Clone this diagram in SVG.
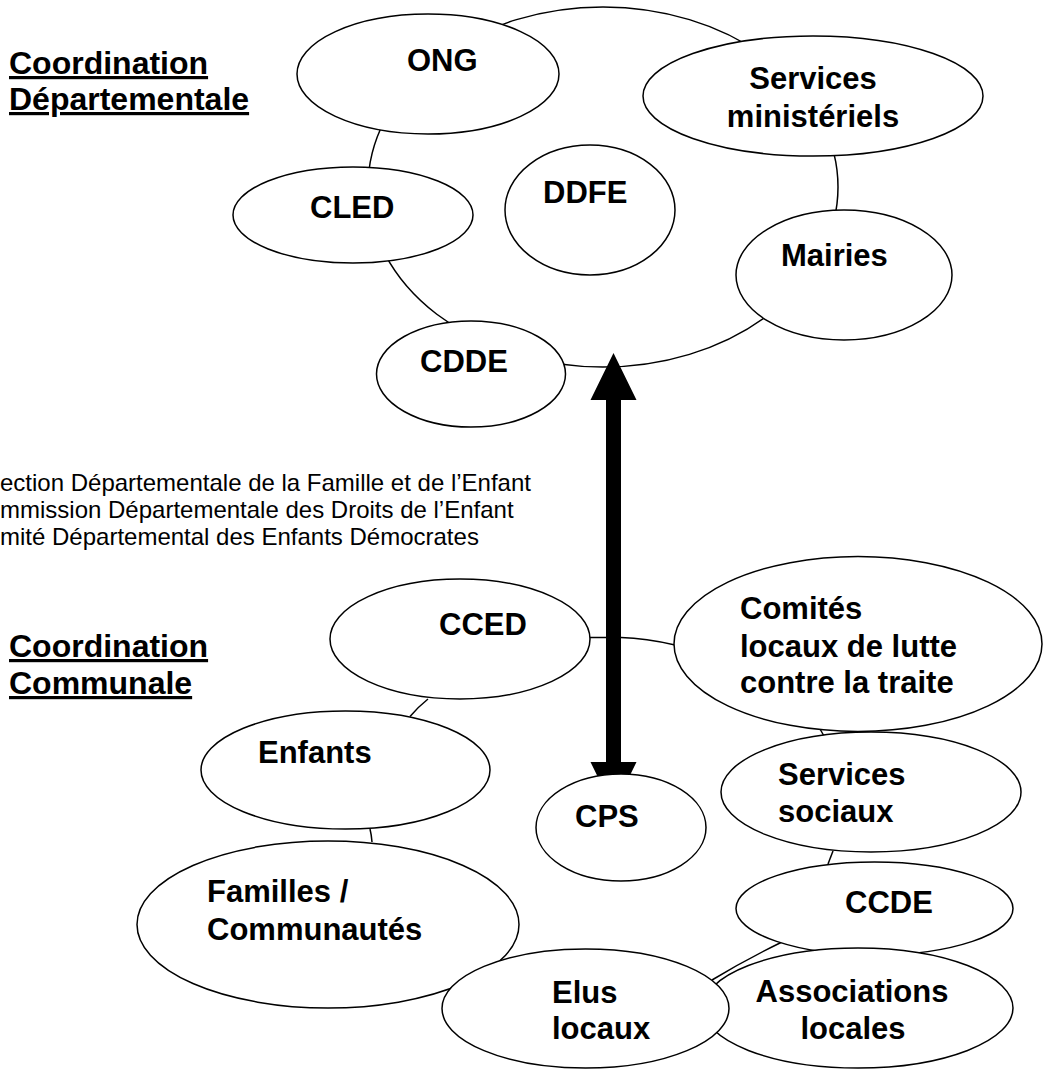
<svg xmlns="http://www.w3.org/2000/svg" width="1043" height="1070" viewBox="0 0 1043 1070">
<style>
.n{fill:#fff;stroke:#000;stroke-width:1.5}
.c{fill:none;stroke:#000;stroke-width:1.5}
.t{font-family:"Liberation Sans",Arial,sans-serif;font-weight:bold;font-size:31px;fill:#000}
.h{font-family:"Liberation Sans",Arial,sans-serif;font-weight:bold;font-size:32px;fill:#000;text-decoration:underline}
.l{font-family:"Liberation Sans",Arial,sans-serif;font-size:24px;fill:#000}
.m{text-anchor:middle}
</style>
<rect width="1043" height="1070" fill="#fff"/>
<g id="titles">
<text class="h" x="9" y="74">Coordination</text>
<text class="h" x="9" y="110">Départementale</text>
<text class="h" x="9" y="657">Coordination</text>
<text class="h" x="9" y="694">Communale</text>
</g>
<g id="legend">
<text class="l" x="0" y="491">ection Départementale de la Famille et de l’Enfant</text>
<text class="l" x="0" y="518">mmission Départementale des Droits de l’Enfant</text>
<text class="l" x="0" y="545">mité Départemental des Enfants Démocrates</text>
</g>
<g id="connectors">
<ellipse class="c" cx="603" cy="187" rx="235" ry="180"/>
<path class="c" d="M590,637.5 L621,637.5 C640,638 658,641 675,645"/>
<path class="c" d="M428,699 Q418,707 410,716.5"/>
<path class="c" d="M370,829 Q371.5,835 372,842"/>
<path class="c" d="M820,729 L824,736"/>
<path class="c" d="M833,851 L828,864"/>
<path class="c" d="M782,942 Q745,960 712,980"/>
<path d="M613.5,353 L636.5,400 L621,400 L621,762 L636.5,762 L613.5,809 L590.5,762 L606,762 L606,400 L590.5,400 Z" fill="#000"/>
</g>
<g id="ong"><ellipse class="n" cx="428" cy="74" rx="131" ry="60"/><text class="t" x="407" y="71">ONG</text></g>
<g id="services-ministeriels"><ellipse class="n" cx="813" cy="96" rx="170" ry="60"/><text class="t m" x="813" y="89">Services</text><text class="t m" x="813" y="127">ministériels</text></g>
<g id="cled"><ellipse class="n" cx="353" cy="215" rx="120" ry="48"/><text class="t" x="310" y="218">CLED</text></g>
<g id="ddfe"><ellipse class="n" cx="590" cy="210" rx="85" ry="65"/><text class="t" x="543" y="203">DDFE</text></g>
<g id="mairies"><ellipse class="n" cx="844" cy="275" rx="108" ry="65"/><text class="t" x="781" y="266">Mairies</text></g>
<g id="cdde"><ellipse class="n" cx="471" cy="374" rx="94.5" ry="53"/><text class="t" x="420" y="372">CDDE</text></g>
<g id="cced"><ellipse class="n" cx="460" cy="639" rx="130" ry="60"/><text class="t" x="439" y="635">CCED</text></g>
<g id="comites"><ellipse class="n" cx="858" cy="644" rx="184" ry="87.5"/><text class="t" x="740" y="619">Comités</text><text class="t" x="740" y="657">locaux de lutte</text><text class="t" x="740" y="693">contre la traite</text></g>
<g id="enfants"><ellipse class="n" cx="345.5" cy="770" rx="144.5" ry="59"/><text class="t" x="258" y="763">Enfants</text></g>
<g id="cps"><ellipse class="n" cx="621" cy="827.5" rx="85" ry="53.5"/><text class="t" x="575" y="827">CPS</text></g>
<g id="services-sociaux"><ellipse class="n" cx="871" cy="792" rx="150" ry="60"/><text class="t" x="778" y="785">Services</text><text class="t" x="778" y="822">sociaux</text></g>
<g id="familles"><ellipse class="n" cx="328" cy="924.5" rx="191" ry="83.5"/><text class="t" x="207" y="902">Familles /</text><text class="t" x="207" y="940">Communautés</text></g>
<g id="ccde"><ellipse class="n" cx="874.5" cy="908.5" rx="138.5" ry="46.5"/><text class="t" x="845" y="913">CCDE</text></g>
<g id="associations"><ellipse class="n" cx="858" cy="1008" rx="155" ry="60"/><text class="t m" x="852" y="1002">Associations</text><text class="t m" x="853" y="1039">locales</text></g>
<g id="elus"><ellipse class="n" cx="585.5" cy="1008.5" rx="143.5" ry="59.5"/><text class="t" x="552" y="1003">Elus</text><text class="t" x="552" y="1039">locaux</text></g>
</svg>
